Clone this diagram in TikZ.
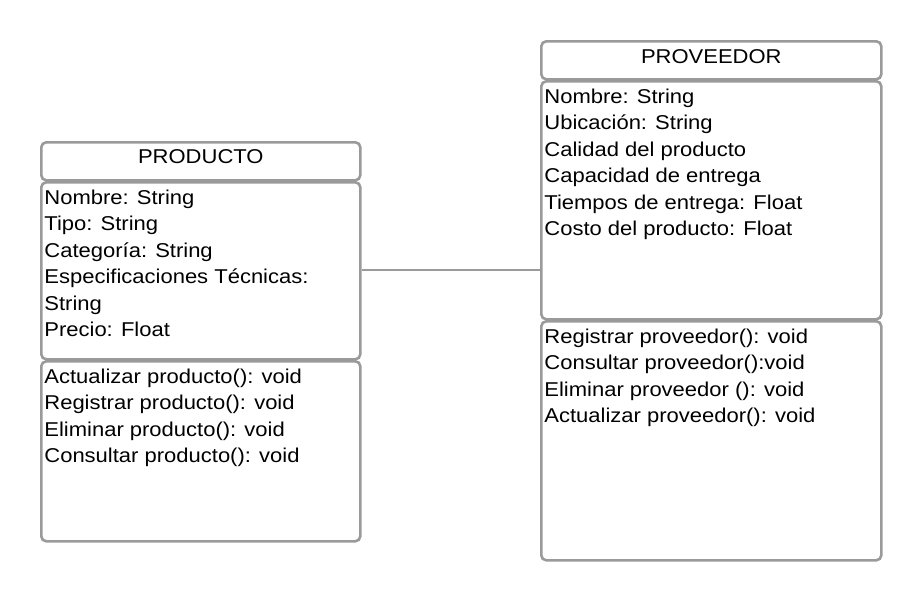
\documentclass[tikz,border=0pt]{standalone}
\usepackage{fontspec}
\setmainfont{Liberation Sans}[FakeStretch=1.1]
\usepackage{xcolor}
\usetikzlibrary{positioning}
\definecolor{umlgray}{HTML}{9A9A9A}

\begin{document}
\begin{tikzpicture}[x=1pt,y=-1pt,thick,
    comp box/.style={draw=umlgray,line width=2.6pt,rounded corners=5pt,inner sep=0pt,anchor=north west},
    head text/.style={anchor=base,inner sep=0pt,font=\fontsize{20}{26.5}\selectfont},
    body text/.style={anchor=north west,inner sep=0pt,align=left,font=\fontsize{20}{26.5}\selectfont},
    link/.style={draw=umlgray,line width=2pt}]

    \useasboundingbox (0,0) rectangle (920,600);

    % PRODUCTO
    \node[comp box,minimum width=319pt,minimum height=38pt] (prodhead) at (40,141) {};
    \node[comp box,minimum width=319pt,minimum height=177pt] (prodattr) at (40,181) {};
    \node[comp box,minimum width=319pt,minimum height=180pt] (prodmeth) at (40,360) {};
    \node[head text] (prodname) at ([yshift=-22pt]prodhead.north) {PRODUCTO};
    \node[body text] (prodattrtext) at ([xshift=4pt,yshift=-8pt]prodattr.north west)
        {\rule{0pt}{15pt}Nombre: String\\ Tipo: String\\ Categoría: String\\
         Especificaciones Técnicas:\\ String\\ Precio: Float};
    \node[body text] (prodmethtext) at ([xshift=4pt,yshift=-8pt]prodmeth.north west)
        {\rule{0pt}{15pt}Actualizar producto(): void\\ Registrar producto(): void\\
         Eliminar producto(): void\\ Consultar producto(): void};

    % PROVEEDOR
    \node[comp box,minimum width=340pt,minimum height=38pt] (provhead) at (540,40) {};
    \node[comp box,minimum width=340pt,minimum height=238pt] (provattr) at (540,80) {};
    \node[comp box,minimum width=340pt,minimum height=239pt] (provmeth) at (540,320) {};
    \node[head text] (provname) at ([yshift=-23pt]provhead.north) {PROVEEDOR};
    \node[body text] (provattrtext) at ([xshift=4pt,yshift=-8pt]provattr.north west)
        {\rule{0pt}{15pt}Nombre: String\\ Ubicación: String\\ Calidad del producto\\
         Capacidad de entrega\\ Tiempos de entrega: Float\\ Costo del producto: Float};
    \node[body text] (provmethtext) at ([xshift=4pt,yshift=-8pt]provmeth.north west)
        {\rule{0pt}{15pt}Registrar proveedor(): void\\ Consultar proveedor():void\\
         Eliminar proveedor (): void\\ Actualizar proveedor(): void};

    % association
    \coordinate (linkstart) at (prodattr.east |- 0,270);
    \coordinate (linkend) at (provattr.west |- 0,270);
    \path[link] (linkstart) -- (linkend);
\end{tikzpicture}
\end{document}
